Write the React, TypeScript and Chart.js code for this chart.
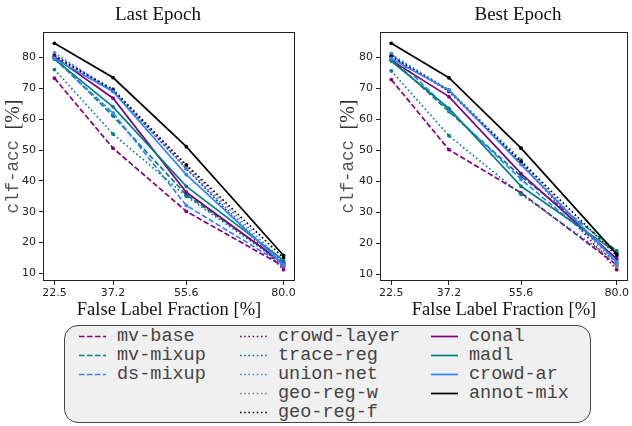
import React, { useEffect, useRef } from "react";
import { Chart, registerables } from "chart.js";

Chart.register(...registerables);

// ---------- data ----------
const fractions = [22.5, 37.2, 55.6, 80.0];
const yTicks = [10, 20, 30, 40, 50, 60, 70, 80];

const methodNames = [
  "mv-base", "mv-mixup", "ds-mixup",
  "crowd-layer", "trace-reg", "union-net", "geo-reg-w", "geo-reg-f",
  "conal", "madl", "crowd-ar", "annot-mix",
];
const methodColors = [
  "#800080", "#008080", "#2b86ff",
  "#800080", "#008080", "#2b86ff", "#808080", "#000000",
  "#800080", "#008080", "#2b86ff", "#000000",
];
const methodStyles = [
  "dashed", "dashed", "dashed",
  "dotted", "dotted", "dotted", "dotted", "dotted",
  "solid", "solid", "solid", "solid",
];

// Last epoch
const lastMvBase = [73.3, 50.6, 30.1, 12.3];
const lastMvMixup = [80.0, 61.0, 35.5, 13.5];
const lastDsMixup = [79.5, 62.0, 32.0, 12.8];
const lastCrowdLayer = [80.5, 69.3, 44.0, 11.2];
const lastTraceReg = [76.1, 55.2, 35.0, 13.0];
const lastUnionNet = [81.5, 69.0, 44.0, 12.5];
const lastGeoRegW = [80.8, 69.8, 44.7, 13.5];
const lastGeoRegF = [80.5, 69.5, 45.2, 15.0];
const lastConal = [80.2, 66.8, 36.3, 13.2];
const lastMadl = [79.5, 64.0, 38.2, 14.2];
const lastCrowdAr = [79.7, 69.0, 42.0, 12.8];
const lastAnnotMix = [84.6, 73.5, 51.1, 15.8];

// Best epoch
const bestMvBase = [72.8, 50.2, 36.3, 13.0];
const bestMvMixup = [79.5, 62.5, 41.6, 17.6];
const bestDsMixup = [81.2, 63.0, 40.6, 15.0];
const bestCrowdLayer = [80.5, 69.0, 45.9, 11.5];
const bestTraceReg = [75.6, 54.7, 35.8, 14.0];
const bestUnionNet = [81.0, 69.4, 45.9, 13.5];
const bestGeoRegW = [80.6, 69.5, 47.0, 12.5];
const bestGeoRegF = [80.3, 69.2, 46.4, 16.0];
const bestConal = [79.0, 67.3, 42.5, 15.0];
const bestMadl = [78.8, 63.5, 38.4, 17.0];
const bestCrowdAr = [79.6, 69.4, 45.4, 14.0];
const bestAnnotMix = [84.5, 73.4, 50.7, 16.5];

const lastSeries = [
  lastMvBase, lastMvMixup, lastDsMixup, lastCrowdLayer, lastTraceReg, lastUnionNet,
  lastGeoRegW, lastGeoRegF, lastConal, lastMadl, lastCrowdAr, lastAnnotMix,
];
const bestSeries = [
  bestMvBase, bestMvMixup, bestDsMixup, bestCrowdLayer, bestTraceReg, bestUnionNet,
  bestGeoRegW, bestGeoRegF, bestConal, bestMadl, bestCrowdAr, bestAnnotMix,
];

const yTitleMono = "clf-acc";
const yTitleSerif = "[%]";
const xTitle = "False Label Fraction [%]";

// ---------- styling helpers ----------
const LW = 1.7;
function dashFor(style: string): number[] {
  if (style === "dashed") return [5.5, 2.5];
  if (style === "dotted") return [1.6, 2.6];
  return [];
}

interface PanelProps {
  title: string;
  series: number[][];
  left: number;
  width: number;
  height: number;
  yAxisWidth: number;
  padRight: number;
  titleX: number;
}

function Panel({ title, series, left, width, height, yAxisWidth, padRight, titleX }: PanelProps) {
  const ref = useRef<HTMLCanvasElement | null>(null);
  useEffect(() => {
    if (!ref.current) return;
    const all = series.flat();
    const dMin = Math.min(...all);
    const dMax = Math.max(...all);
    const yPad = (dMax - dMin) * 0.05;
    const xPad = (fractions[fractions.length - 1] - fractions[0]) * 0.05;
    const n = methodNames.length;

    const framePlugin = {
      id: "frameAndTitle",
      afterDatasetsDraw(chart: any) {
        const { ctx, chartArea: a } = chart;
        ctx.save();
        ctx.strokeStyle = "#222";
        ctx.lineWidth = 1;
        ctx.setLineDash([]);
        ctx.strokeRect(a.left + 0.5, a.top + 0.5, a.right - a.left - 1, a.bottom - a.top - 1);
        // panel title
        ctx.font = '19px "Liberation Serif"';
        ctx.fillStyle = "#111";
        ctx.textAlign = "center";
        ctx.textBaseline = "middle";
        ctx.fillText(title, titleX, 15);
        // y-axis title: mono part + serif part
        const monoFont = '17.5px "Liberation Mono"';
        const serifFont = '20px "Liberation Serif"';
        ctx.font = monoFont;
        const w1 = ctx.measureText(yTitleMono + " ").width;
        ctx.font = serifFont;
        const w2 = ctx.measureText(yTitleSerif).width;
        const total = w1 + w2;
        const cy = (a.top + a.bottom) / 2;
        ctx.translate(a.left - yAxisWidth + 13.5, cy);
        ctx.rotate(-Math.PI / 2);
        ctx.textAlign = "left";
        ctx.textBaseline = "middle";
        ctx.fillStyle = "#555";
        ctx.font = monoFont;
        ctx.fillText(yTitleMono + " ", -total / 2, 0);
        ctx.fillStyle = "#333";
        ctx.font = serifFont;
        ctx.fillText(yTitleSerif, -total / 2 + w1, 0);
        ctx.restore();
      },
    };

    const chart = new Chart(ref.current, {
      type: "line",
      data: {
        datasets: methodNames.map((name, i) => ({
          label: name,
          data: fractions.map((x, j) => ({ x, y: series[i][j] })),
          borderColor: methodColors[i],
          backgroundColor: methodColors[i],
          pointBackgroundColor: methodColors[i],
          pointBorderWidth: 0,
          pointRadius: 1.9,
          borderWidth: LW,
          borderDash: dashFor(methodStyles[i]),
          tension: 0,
          fill: false,
          order: n - i,
        })),
      },
      options: {
        animation: false,
        responsive: false,
        maintainAspectRatio: false,
        devicePixelRatio: 1,
        layout: { padding: { top: 32, right: padRight, left: 0, bottom: 0 } },
        plugins: {
          legend: { display: false },
          tooltip: { enabled: false },
          title: { display: false },
        },
        scales: {
          x: {
            type: "linear",
            min: fractions[0] - xPad,
            max: fractions[fractions.length - 1] + xPad,
            afterBuildTicks: (s: any) => {
              s.ticks = fractions.map((v) => ({ value: v }));
            },
            afterFit: (s: any) => {
              s.height = 41;
            },
            ticks: {
              callback: (v: any) => Number(v).toFixed(1),
              font: { family: "DejaVu Sans", size: 11 },
              color: "#222",
              padding: 2,
              maxRotation: 0,
              autoSkip: false,
            },
            grid: { drawOnChartArea: false, drawTicks: true, tickLength: 4, color: "#222" },
            border: { display: false },
            title: {
              display: true,
              text: xTitle,
              font: { family: "Liberation Serif", size: 18.5 },
              color: "#111",
              padding: { top: 0, bottom: 1 },
            },
          },
          y: {
            type: "linear",
            min: dMin - yPad,
            max: dMax + yPad,
            afterBuildTicks: (s: any) => {
              s.ticks = yTicks.map((v) => ({ value: v }));
            },
            afterFit: (s: any) => {
              s.width = yAxisWidth;
            },
            ticks: {
              font: { family: "DejaVu Sans", size: 11 },
              color: "#222",
              padding: 3,
              autoSkip: false,
            },
            grid: { drawOnChartArea: false, drawTicks: true, tickLength: 4, color: "#222" },
            border: { display: false },
            title: { display: false },
          },
        },
      },
      plugins: [framePlugin],
    } as any);
    return () => chart.destroy();
  }, [title, series, yAxisWidth, padRight, titleX]);

  return (
    <canvas
      ref={ref}
      width={width}
      height={height}
      style={{ position: "absolute", left, top: 0, width, height }}
    />
  );
}

function LegendSample({ color, style }: { color: string; style: string }) {
  const dash = dashFor(style);
  return (
    <svg width={27} height={19} style={{ display: "block", flex: "none" }}>
      <line
        x1={0}
        y1={9.5}
        x2={27}
        y2={9.5}
        stroke={color}
        strokeWidth={LW}
        strokeDasharray={dash.length ? dash.join(" ") : undefined}
      />
    </svg>
  );
}

const legendColumns = [
  { left: 14, items: [0, 1, 2] },
  { left: 175, items: [3, 4, 5, 6, 7] },
  { left: 366, items: [8, 9, 10, 11] },
];

function Legend() {
  return (
    <div
      style={{
        position: "absolute",
        left: 64,
        top: 325,
        width: 527,
        height: 98,
        boxSizing: "border-box",
        border: "1px solid #444",
        borderRadius: 14,
        background: "#f0f0f0",
      }}
    >
      {legendColumns.map((col, ci) => (
        <div key={ci} style={{ position: "absolute", left: col.left, top: 1 }}>
          {col.items.map((i) => (
            <div key={i} style={{ display: "flex", alignItems: "center", height: 19 }}>
              <LegendSample color={methodColors[i]} style={methodStyles[i]} />
              <span
                style={{
                  marginLeft: 11,
                  fontFamily: '"Liberation Mono", monospace',
                  fontSize: 18.5,
                  lineHeight: "19px",
                  color: "#444",
                  whiteSpace: "pre",
                }}
              >
                {methodNames[i]}
              </span>
            </div>
          ))}
        </div>
      ))}
    </div>
  );
}

export default function App() {
  return (
    <div
      style={{
        position: "absolute",
        left: 0,
        top: 0,
        width: 632,
        height: 426,
        background: "#fff",
        overflow: "hidden",
      }}
    >
      <Panel
        title="Last Epoch"
        series={lastSeries}
        left={0}
        width={320}
        height={322}
        yAxisWidth={43}
        padRight={25}
        titleX={158}
      />
      <Panel
        title="Best Epoch"
        series={bestSeries}
        left={335}
        width={297}
        height={322}
        yAxisWidth={45}
        padRight={1}
        titleX={183}
      />
      <Legend />
    </div>
  );
}
